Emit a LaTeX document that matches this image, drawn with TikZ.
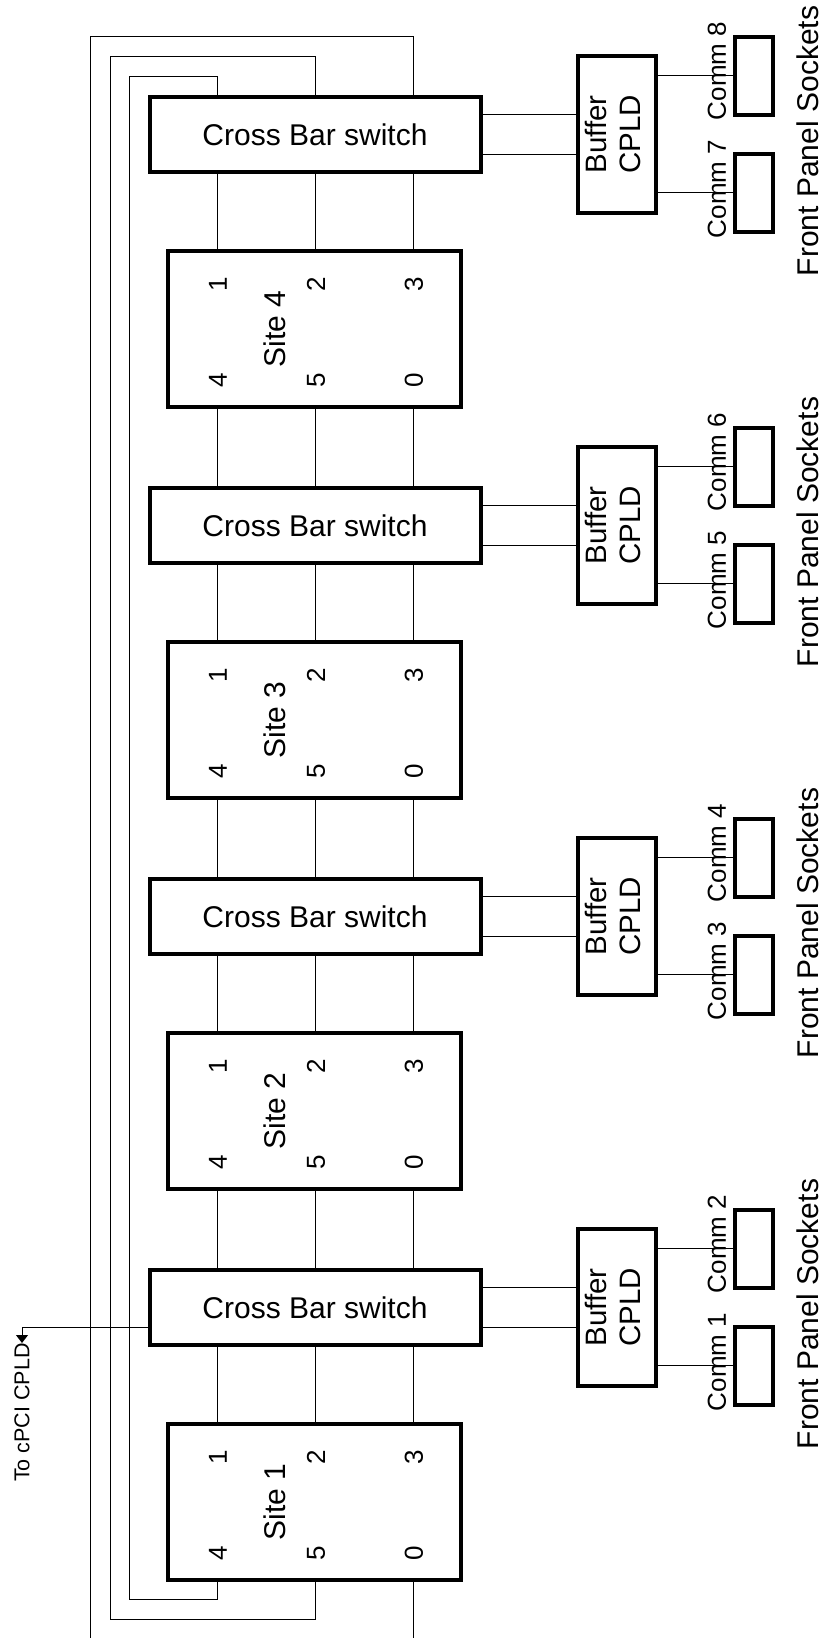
\documentclass[tikz,border=0pt]{standalone}
\usepackage{fontspec}
\setmainfont{Liberation Sans}
\usetikzlibrary{arrows.meta}
\begin{document}
\begin{tikzpicture}[x=1pt,y=-1pt,
  box/.style={draw=black,line width=4pt,fill=white,inner sep=0pt,outer sep=0pt},
  xbar/.style={box,minimum width=331pt,minimum height=75pt,font=\fontsize{30}{36}\selectfont},
  sitebox/.style={box,minimum width=293pt,minimum height=156pt},
  bufbox/.style={box,minimum width=78.5pt,minimum height=157pt,font=\fontsize{29.5}{34}\selectfont},
  commbox/.style={box,minimum width=38.5pt,minimum height=78pt},
  vlabel/.style={rotate=90,inner sep=0pt},
  lblbig/.style={vlabel,font=\fontsize{30}{36}\selectfont},
  lblmid/.style={vlabel,font=\fontsize{26}{30}\selectfont},
  lblsmall/.style={vlabel,font=\fontsize{21.5}{26}\selectfont},
  wire/.style={line width=1pt,draw=black}
]
\useasboundingbox (0,0) rectangle (824,1638);

% bus columns and loop corners
\coordinate (b1) at (217,0);
\coordinate (b2) at (315,0);
\coordinate (b3) at (413,0);
\coordinate (l1t) at (129,76);
\coordinate (l1b) at (129,1599);
\coordinate (l2t) at (110,56);
\coordinate (l2b) at (110,1619);
\coordinate (l3t) at (90,36);
\coordinate (l3b) at (90,1638);
\coordinate (e3) at (413,1638);

\foreach \k in {0,1,2,3}{
  \pgfmathtruncatemacro{\n}{4-\k}
  \pgfmathtruncatemacro{\ceven}{2*\n}
  \pgfmathtruncatemacro{\codd}{2*\n-1}
  \pgfmathsetmacro{\dy}{391*\k}
  % cross bar switch
  \node[xbar] (cb\n) at (315,{134.5+\dy}) {Cross Bar switch};
  % site
  \node[sitebox] (s\n) at (314.5,{329+\dy}) {};
  \node[lblbig] (st\n) at (275,{329+\dy}) {Site \n};
  \node[lblmid] (dA\n) at (218,{284+\dy}) {1};
  \node[lblmid] (dB\n) at (316,{284+\dy}) {2};
  \node[lblmid] (dC\n) at (414,{284+\dy}) {3};
  \node[lblmid] (dD\n) at (218,{380+\dy}) {4};
  \node[lblmid] (dE\n) at (316,{380+\dy}) {5};
  \node[lblmid] (dF\n) at (414,{380+\dy}) {0};
  % buffer
  \node[bufbox] (buf\n) at (617,{134.5+\dy}) {\rotatebox{90}{\begin{tabular}{@{}c@{}}Buffer\\CPLD\end{tabular}}};
  % comm sockets
  \node[commbox] (cu\n) at (754,{75.5+\dy}) {};
  \node[commbox] (cl\n) at (754,{192.7+\dy}) {};
  \node[lblmid] (tu\n) at (717,{71+\dy}) {Comm \ceven};
  \node[lblmid] (tl\n) at (717,{189+\dy}) {Comm \codd};
  \node[lblbig] (fp\n) at (808,{141+\dy}) {Front Panel Sockets};
  % connectors crossbar -> buffer
  \path ([yshift=20.5pt]cb\n.east) coordinate (ua\n);
  \path ([yshift=-19.5pt]cb\n.east) coordinate (ub\n);
  \draw[wire] (ua\n) -- (ua\n -| buf\n.west);
  \draw[wire] (ub\n) -- (ub\n -| buf\n.west);
  % buffer -> comm
  \draw[wire] (cu\n.west -| buf\n.east) -- (cu\n.west);
  \draw[wire] (cl\n.west -| buf\n.east) -- (cl\n.west);
}

% bus segments
\foreach \n in {1,2,3,4}{
  \foreach \b in {b1,b2,b3}{
    \draw[wire] (cb\n.south -| \b) -- (s\n.north -| \b);
  }
}
\foreach \n in {4,3,2}{
  \pgfmathtruncatemacro{\m}{\n-1}
  \foreach \b in {b1,b2,b3}{
    \draw[wire] (s\n.south -| \b) -- (cb\m.north -| \b);
  }
}

% loops
\draw[wire] (cb4.north -| b1) |- (l1t) -- (l1b) -| (s1.south -| b1);
\draw[wire] (cb4.north -| b2) |- (l2t) -- (l2b) -| (s1.south -| b2);
\draw[wire] (cb4.north -| b3) |- (l3t) -- (l3b);
\draw[wire] (s1.south -| b3) -- (e3);

% to cPCI CPLD
\node[lblsmall,anchor=east] (cpci) at (22,1343) {To cPCI CPLD};
\coordinate (ac) at (22,1327);
\draw[wire,-{Triangle[length=8pt,width=12pt]}] (cb1.west |- ac) -- (ac) -- (cpci.east);
\end{tikzpicture}
\end{document}
